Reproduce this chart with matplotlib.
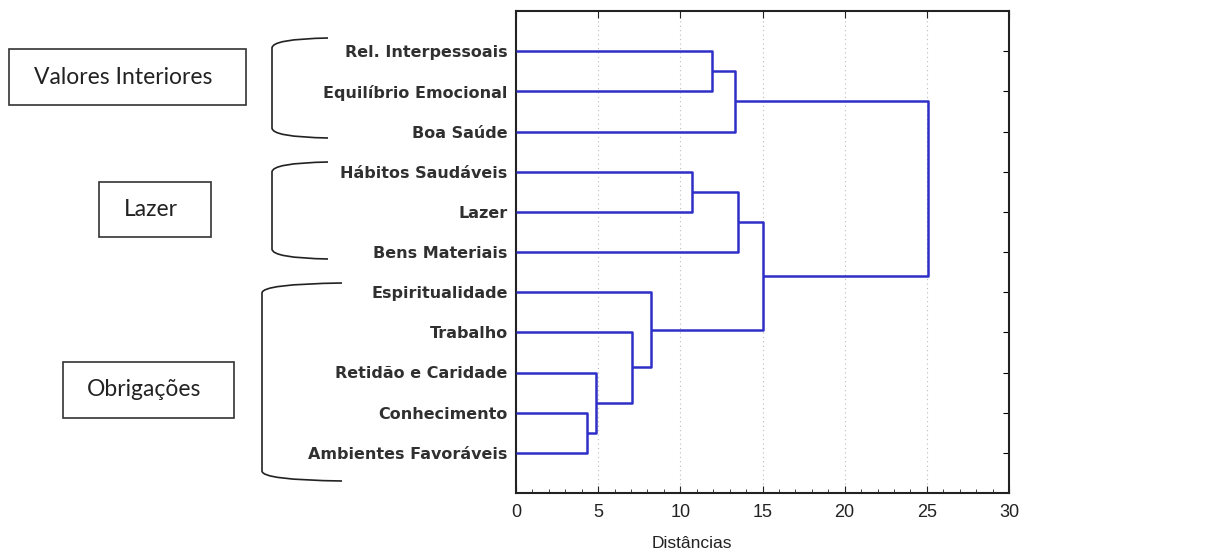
import matplotlib
matplotlib.use("Agg")
import matplotlib.pyplot as plt
from matplotlib.patches import Rectangle, PathPatch
from matplotlib.path import Path

# leaves, top to bottom
leaves = ["Rel. Interpessoais", "Equilíbrio Emocional", "Boa Saúde",
          "Hábitos Saudáveis", "Lazer", "Bens Materiais",
          "Espiritualidade", "Trabalho", "Retidão e Caridade",
          "Conhecimento", "Ambientes Favoráveis"]

# merges: (child a, child b, distance); new clusters get ids 11, 12, ...
merge_a = [0, 11, 3, 13, 9, 8, 7, 6, 14, 12]
merge_b = [1, 2, 4, 5, 10, 15, 16, 17, 18, 19]
merge_h = [11.9, 13.3, 10.7, 13.5, 4.35, 4.85, 7.05, 8.2, 15.05, 25.05]

groups = ["Valores Interiores", "Lazer", "Obrigações"]

line_col = "#2e2ec8"

fig = plt.figure(figsize=(12.11, 5.57), dpi=100)
ax = fig.add_axes([516 / 1211, 1 - 493 / 557, 493 / 1211, 482 / 557])

# node positions: x = height, y = position
px = {i: 0.0 for i in range(len(leaves))}
py = {i: i + 1 for i in range(len(leaves))}
for k, (a, b, h) in enumerate(zip(merge_a, merge_b, merge_h)):
    ax.plot([px[a], h, h, px[b]], [py[a], py[a], py[b], py[b]],
            color=line_col, lw=1.8, solid_capstyle="butt", zorder=3)
    nid = len(leaves) + k
    px[nid] = h
    py[nid] = (py[a] + py[b]) / 2

ax.set_xlim(0, 30)
ax.set_ylim(12, 0)
ax.set_xticks(range(0, 31, 5))
ax.set_xticks(range(0, 31), minor=True)
ax.set_yticks(range(1, len(leaves) + 1))
ax.set_yticklabels(leaves, fontsize=11.5, color="#303030",
                   family="DejaVu Sans", fontweight="bold")
for lbl in ax.get_xticklabels():
    lbl.set_family("Liberation Sans")
ax.tick_params(axis="x", which="major", direction="in", length=5,
               top=True, labelsize=13, pad=8, colors="#222222")
ax.tick_params(axis="x", which="minor", direction="in", length=3,
               top=False, colors="#222222")
ax.tick_params(axis="y", direction="in", length=4, left=False, right=True,
               pad=6)
ax.grid(axis="x", which="major", color="#bbbbbb", ls=(0, (1, 3)), lw=0.8)
for s in ax.spines.values():
    s.set_linewidth(1.5)
    s.set_color("#222222")
ax.set_xlabel("Distâncias", fontsize=12.5, color="#222222",
              family="Liberation Sans")
ax.xaxis.set_label_coords(0.357, -0.09)

# overlay in pixel coords for boxes and brackets
ov = fig.add_axes([0, 0, 1, 1])
ov.set_xlim(0, 1211)
ov.set_ylim(557, 0)
ov.axis("off")

boxes = [(9, 49, 237, 56), (99, 182, 112, 55), (63, 362, 171, 56)]
for (bx, by, bw, bh), name in zip(boxes, groups):
    ov.add_patch(Rectangle((bx, by), bw, bh, fill=False, ec="#333333", lw=1.2))
    ov.text(bx + bw / 2 - 4, by + bh / 2, name, ha="center", va="center",
            fontsize=16.5, family="Lato", color="#222222")

brackets = [(272, 328, 38, 138), (272, 328, 162, 259), (262, 342, 283, 481)]
for xl, xe, yt, yb in brackets:
    r = 10
    verts = [(xe, yt), (xl, yt + 1), (xl, yt + r), (xl, yb - r),
             (xl, yb - 1), (xe, yb)]
    codes = [Path.MOVETO, Path.CURVE3, Path.CURVE3, Path.LINETO,
             Path.CURVE3, Path.CURVE3]
    ov.add_patch(PathPatch(Path(verts, codes), fill=False, ec="#222222",
                           lw=1.2))

fig.savefig("out.png", dpi=100)
